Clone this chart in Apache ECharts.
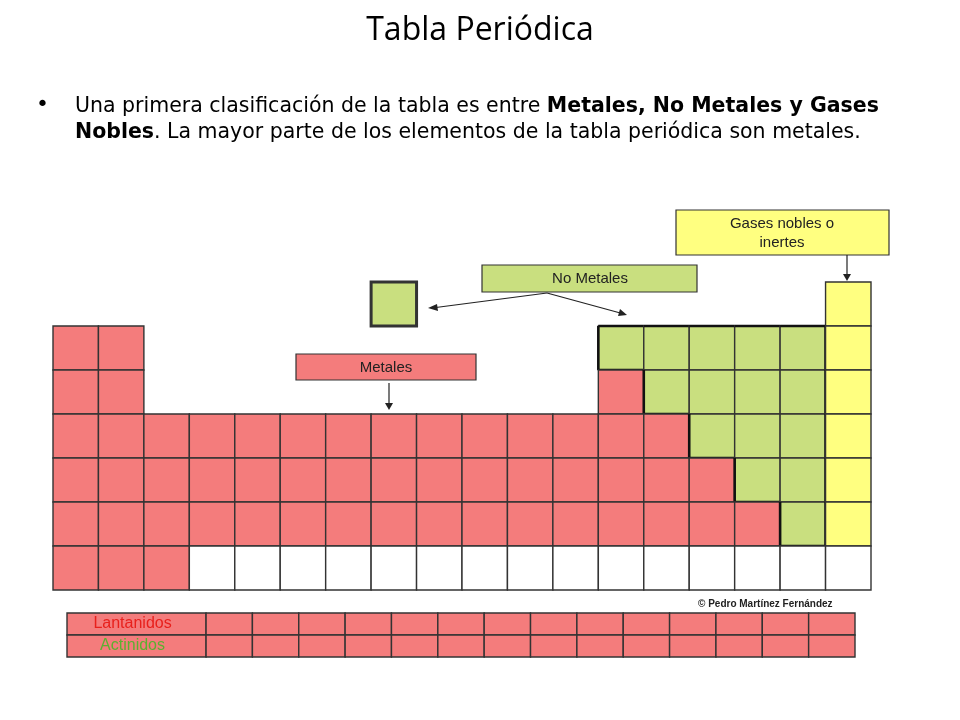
<!DOCTYPE html>
<html>
<head>
<meta charset="utf-8">
<script src="https://cdn.jsdelivr.net/npm/echarts@6/dist/echarts.min.js"></script>
<style>
  html, body { margin: 0; padding: 0; background: #fff; }
  #main { width: 960px; height: 720px; }
</style>
</head>
<body>
<div id="main"></div>
<script>
// M = metal, N = no metal, H = hidrógeno (no metal, aparte), Y = gas noble, W = vacío, . = sin celda
var tableRows = [
  '.......H.........Y',
  'MM..........NNNNNY',
  'MM..........MNNNNY',
  'MMMMMMMMMMMMMMNNNY',
  'MMMMMMMMMMMMMMMNNY',
  'MMMMMMMMMMMMMMMMNY',
  'MMMWWWWWWWWWWWWWWW'
];
var fRows = ['Lantanidos', 'Actinidos'];
var fCells = 14;

var colors = { M: '#f47c7c', N: '#c9df7f', H: '#c9df7f', Y: '#ffff80', W: '#ffffff' };

var cells = [];
tableRows.forEach(function (row, r) {
  row.split('').forEach(function (c, k) {
    if (c !== '.') cells.push([k, r, c]);
  });
});
function isN(k, r) {
  var row = tableRows[r];
  if (!row) return false;
  return row[k] === 'N';
}
var fData = [];
fRows.forEach(function (name, r) {
  fData.push([0, r, 'L', name]);
  for (var i = 0; i < fCells; i++) fData.push([3 + i, r, 'C', '']);
});

var chart = echarts.init(document.getElementById('main'));
var bodyFont = '"DejaVu Sans", sans-serif';

var option = {
  animation: false,
  grid: [
    { left: 53, right: 89, top: 282, bottom: 130 },
    { left: 67, right: 105, top: 613, height: 44 }
  ],
  xAxis: [
    { gridIndex: 0, type: 'value', min: 0, max: 18, show: false },
    { gridIndex: 1, type: 'value', min: 0, max: 17, show: false }
  ],
  yAxis: [
    { gridIndex: 0, type: 'value', min: 0, max: 7, inverse: true, show: false },
    { gridIndex: 1, type: 'value', min: 0, max: 2, inverse: true, show: false }
  ],
  series: [
    {
      type: 'custom',
      xAxisIndex: 0, yAxisIndex: 0,
      data: cells,
      renderItem: function (params, api) {
        var k = api.value(0), r = api.value(1);
        var c = cells[params.dataIndex][2];
        var p0 = api.coord([k, r]), p1 = api.coord([k + 1, r + 1]);
        var x0 = p0[0], y0 = p0[1], x1 = p1[0], y1 = p1[1];
        var children = [{
          type: 'rect',
          shape: { x: x0, y: y0, width: x1 - x0, height: y1 - y0 },
          style: { fill: colors[c], stroke: '#333', lineWidth: c === 'H' ? 3 : 1.4 }
        }];
        if (c === 'N') {
          var edges = [];
          if (!isN(k, r - 1)) edges.push([x0, y0, x1, y0]);
          if (!isN(k, r + 1)) edges.push([x0, y1, x1, y1]);
          if (!isN(k - 1, r)) edges.push([x0, y0, x0, y1]);
          if (!isN(k + 1, r)) edges.push([x1, y0, x1, y1]);
          edges.forEach(function (e) {
            children.push({
              type: 'line',
              shape: { x1: e[0], y1: e[1], x2: e[2], y2: e[3] },
              style: { stroke: '#111', lineWidth: 2.6 }
            });
          });
        }
        return { type: 'group', children: children };
      }
    },
    {
      type: 'custom',
      xAxisIndex: 1, yAxisIndex: 1,
      data: fData,
      renderItem: function (params, api) {
        var d = fData[params.dataIndex];
        var w = d[2] === 'L' ? 3 : 1;
        var p0 = api.coord([d[0], d[1]]), p1 = api.coord([d[0] + w, d[1] + 1]);
        return {
          type: 'group',
          children: [{
            type: 'rect',
            shape: { x: p0[0], y: p0[1], width: p1[0] - p0[0], height: p1[1] - p0[1] },
            style: { fill: '#f47c7c', stroke: '#333', lineWidth: 1.4 }
          }, {
            type: 'text',
            style: {
              x: (p0[0] + p1[0]) / 2 - 4, y: (p0[1] + p1[1]) / 2,
              text: d[3], align: 'center', verticalAlign: 'middle',
              fill: d[1] === 0 ? '#e8201c' : '#5cb030',
              font: '16px "Liberation Sans", Arial'
            }
          }]
        };
      }
    }
  ],
  graphic: [
    { type: 'text', style: { x: 480, y: 31, text: 'Tabla Periódica', align: 'center', verticalAlign: 'middle', fill: '#000', font: '32px "Open Sans", sans-serif' } },
    { type: 'text', style: { x: 36, y: 105, text: '•', verticalAlign: 'middle', fill: '#000', font: '22px ' + bodyFont } },
    { type: 'text', style: { x: 75, y: 107, verticalAlign: 'middle', fill: '#000',
        text: '{n|Una primera clasificación de la tabla es entre }{b|Metales, No Metales y Gases}',
        rich: { n: { font: '20.5px ' + bodyFont }, b: { font: 'bold 20.5px ' + bodyFont } } } },
    { type: 'text', style: { x: 75, y: 133, verticalAlign: 'middle', fill: '#000',
        text: '{b|Nobles}{n|. La mayor parte de los elementos de la tabla periódica son metales.}',
        rich: { n: { font: '20.5px ' + bodyFont }, b: { font: 'bold 20.5px ' + bodyFont } } } },

    { type: 'rect', shape: { x: 296, y: 354, width: 180, height: 26 }, style: { fill: '#f47c7c', stroke: '#333', lineWidth: 1.2 } },
    { type: 'text', style: { x: 386, y: 368, text: 'Metales', align: 'center', verticalAlign: 'middle', fill: '#222', font: '15px "Liberation Sans", Arial' } },
    { type: 'line', shape: { x1: 389, y1: 383, x2: 389, y2: 405 }, style: { stroke: '#222', lineWidth: 1.2 } },
    { type: 'polygon', shape: { points: [[385, 403], [393, 403], [389, 410]] }, style: { fill: '#222' } },

    { type: 'rect', shape: { x: 482, y: 265, width: 215, height: 27 }, style: { fill: '#c9df7f', stroke: '#333', lineWidth: 1.2 } },
    { type: 'text', style: { x: 590, y: 279, text: 'No Metales', align: 'center', verticalAlign: 'middle', fill: '#222', font: '15px "Liberation Sans", Arial' } },
    { type: 'line', shape: { x1: 547, y1: 293, x2: 432, y2: 308 }, style: { stroke: '#222', lineWidth: 1.2 } },
    { type: 'polygon', shape: { points: [[428, 308], [437, 304], [438, 311]] }, style: { fill: '#222' } },
    { type: 'line', shape: { x1: 547, y1: 293, x2: 624, y2: 314 }, style: { stroke: '#222', lineWidth: 1.2 } },
    { type: 'polygon', shape: { points: [[627, 315], [618, 316], [620, 309]] }, style: { fill: '#222' } },

    { type: 'rect', shape: { x: 676, y: 210, width: 213, height: 45 }, style: { fill: '#ffff80', stroke: '#333', lineWidth: 1.2 } },
    { type: 'text', style: { x: 782, y: 224, text: 'Gases nobles o', align: 'center', verticalAlign: 'middle', fill: '#222', font: '15px "Liberation Sans", Arial' } },
    { type: 'text', style: { x: 782, y: 243, text: 'inertes', align: 'center', verticalAlign: 'middle', fill: '#222', font: '15px "Liberation Sans", Arial' } },
    { type: 'line', shape: { x1: 847, y1: 255, x2: 847, y2: 276 }, style: { stroke: '#222', lineWidth: 1.2 } },
    { type: 'polygon', shape: { points: [[843, 274], [851, 274], [847, 281]] }, style: { fill: '#222' } },

    { type: 'text', style: { x: 698, y: 604, text: '© Pedro Martínez Fernández', verticalAlign: 'middle', fill: '#222', font: 'bold 10px "Liberation Sans", Arial' } }
  ]
};
chart.setOption(option);
</script>
</body>
</html>
